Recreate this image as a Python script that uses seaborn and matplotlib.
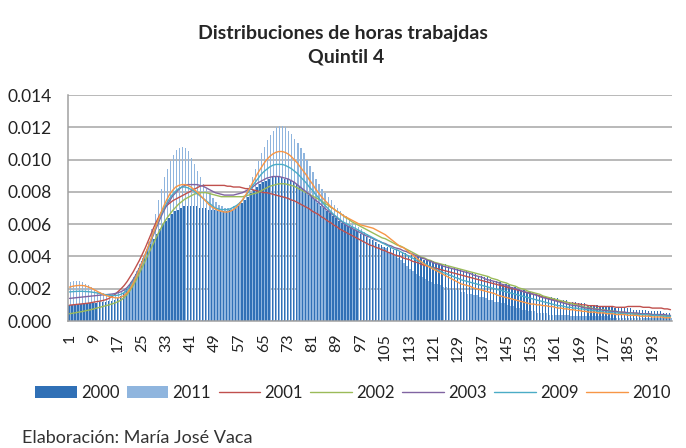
import numpy as np
import pandas as pd
import matplotlib
matplotlib.use("Agg")
import matplotlib.pyplot as plt
import seaborn as sns

# horas 1..199, valores en "por mil" (x 1/1000)
horas = list(range(1, 200))

y2000 = [1.00,1.02,1.04,1.06,1.08,1.10,1.11,1.12,1.13,1.14,
         1.15,1.17,1.19,1.22,1.26,1.32,1.42,1.55,1.75,2.00,
         2.20,2.50,2.90,3.30,3.70,4.10,4.50,4.80,5.10,5.40,
         5.70,6.00,6.20,6.40,6.60,6.80,6.90,7.00,7.10,7.10,
         7.10,7.10,7.10,7.00,7.00,7.00,6.90,6.90,6.90,6.80,
         6.80,6.80,6.80,6.90,6.90,7.00,7.10,7.30,7.50,7.70,
         7.90,8.10,8.30,8.50,8.60,8.70,8.80,8.90,8.90,8.90,
         8.90,8.80,8.80,8.70,8.60,8.50,8.30,8.20,8.00,7.80,
         7.70,7.50,7.30,7.10,7.00,6.80,6.70,6.50,6.40,6.20,
         6.10,6.00,5.90,5.80,5.70,5.60,5.40,5.30,5.20,5.10,
         5.00,4.90,4.80,4.70,4.60,4.60,4.50,4.40,4.40,4.30,
         4.30,4.20,4.10,4.10,4.00,4.00,3.90,3.80,3.80,3.70,
         3.70,3.60,3.60,3.50,3.50,3.40,3.30,3.30,3.20,3.20,
         3.10,3.10,3.00,3.00,2.90,2.80,2.80,2.70,2.70,2.60,
         2.50,2.50,2.40,2.30,2.30,2.20,2.10,2.10,2.00,1.90,
         1.90,1.80,1.80,1.70,1.70,1.60,1.60,1.50,1.50,1.50,
         1.40,1.40,1.30,1.30,1.30,1.20,1.20,1.20,1.10,1.10,
         1.10,1.00,1.00,1.00,1.00,0.90,0.90,0.90,0.90,0.90,
         0.80,0.80,0.80,0.80,0.80,0.80,0.70,0.70,0.70,0.70,
         0.70,0.60,0.60,0.60,0.60,0.60,0.50,0.50,0.50]

y2011 = [2.40,2.50,2.50,2.45,2.40,2.30,2.20,2.10,1.95,1.85,
         1.80,1.75,1.70,1.70,1.70,1.70,1.72,1.78,1.90,2.10,
         2.40,2.75,3.10,3.50,3.90,4.30,4.90,5.70,6.60,7.50,
         8.20,8.90,9.40,9.90,10.30,10.60,10.70,10.80,10.70,10.50,
         10.10,9.70,9.30,8.90,8.50,8.20,7.90,7.60,7.40,7.20,
         7.10,7.00,7.00,7.00,7.10,7.20,7.40,7.60,8.00,8.40,
         8.90,9.40,9.90,10.40,10.80,11.20,11.50,11.80,12.00,12.10,
         12.10,12.00,11.80,11.60,11.30,11.00,10.70,10.40,10.00,9.60,
         9.20,8.80,8.50,8.20,7.90,7.70,7.50,7.20,7.00,6.80,
         6.60,6.50,6.30,6.10,6.00,5.80,5.70,5.50,5.40,5.20,
         5.10,4.90,4.80,4.60,4.50,4.30,4.20,4.00,3.90,3.80,
         3.60,3.40,3.20,3.10,2.90,2.80,2.70,2.60,2.50,2.40,
         2.30,2.30,2.20,2.10,2.10,2.00,2.00,1.90,1.90,1.80,
         1.80,1.70,1.70,1.60,1.60,1.50,1.50,1.40,1.30,1.30,
         1.20,1.20,1.10,1.10,1.00,0.90,0.90,0.80,0.80,0.70,
         0.70,0.60,0.60,0.60,0.50,0.50,0.50,0.50,0.40,0.40,
         0.40,0.40,0.40,0.40,0.40,0.30,0.30,0.30,0.30,0.30,
         0.30,0.30,0.30,0.30,0.30,0.30,0.30,0.30,0.20,0.20,
         0.20,0.20,0.20,0.20,0.20,0.20,0.20,0.20,0.20,0.20,
         0.20,0.20,0.20,0.20,0.20,0.20,0.20,0.20,0.20]

y2001 = [0.98,1.00,1.02,1.04,1.06,1.08,1.10,1.13,1.17,1.20,
         1.23,1.27,1.32,1.40,1.52,1.66,1.82,2.00,2.20,2.45,
         2.75,3.05,3.40,3.75,4.15,4.55,5.00,5.45,5.90,6.30,
         6.65,6.95,7.15,7.30,7.45,7.55,7.65,7.75,7.85,7.95,
         8.05,8.15,8.25,8.35,8.40,8.40,8.40,8.40,8.40,8.40,
         8.40,8.40,8.35,8.35,8.30,8.30,8.30,8.25,8.20,8.20,
         8.15,8.10,8.05,8.00,7.95,7.95,7.90,7.85,7.80,7.75,
         7.70,7.65,7.60,7.50,7.45,7.35,7.25,7.15,7.05,6.95,
         6.80,6.70,6.60,6.45,6.35,6.20,6.10,5.95,5.85,5.70,
         5.60,5.50,5.40,5.30,5.20,5.10,5.00,4.90,4.80,4.70,
         4.65,4.55,4.50,4.40,4.35,4.25,4.20,4.10,4.05,4.00,
         3.90,3.85,3.80,3.70,3.65,3.60,3.50,3.45,3.40,3.35,
         3.30,3.25,3.20,3.15,3.10,3.05,3.00,2.95,2.90,2.85,
         2.80,2.75,2.70,2.65,2.60,2.55,2.50,2.45,2.40,2.35,
         2.30,2.25,2.20,2.15,2.10,2.05,2.00,1.95,1.90,1.85,
         1.80,1.75,1.70,1.65,1.60,1.55,1.50,1.45,1.40,1.35,
         1.30,1.25,1.20,1.20,1.15,1.10,1.10,1.05,1.05,1.00,
         1.00,0.95,0.95,0.95,0.90,0.90,0.90,0.90,0.90,0.90,
         0.85,0.85,0.85,0.85,0.90,0.90,0.90,0.90,0.90,0.85,
         0.85,0.85,0.80,0.80,0.80,0.80,0.75,0.75,0.70]

y2002 = [0.45,0.48,0.51,0.55,0.58,0.62,0.66,0.70,0.75,0.80,
         0.85,0.90,0.95,1.00,1.06,1.12,1.20,1.30,1.45,1.65,
         1.90,2.20,2.55,2.95,3.35,3.75,4.15,4.55,4.95,5.35,
         5.70,6.05,6.35,6.60,6.85,7.05,7.25,7.40,7.55,7.65,
         7.75,7.85,7.90,7.95,7.95,7.95,7.90,7.85,7.80,7.75,
         7.70,7.70,7.70,7.70,7.70,7.70,7.70,7.70,7.75,7.80,
         7.85,7.90,7.95,8.05,8.15,8.25,8.35,8.40,8.45,8.50,
         8.50,8.50,8.45,8.40,8.35,8.25,8.15,8.05,7.95,7.85,
         7.75,7.65,7.55,7.45,7.30,7.20,7.05,6.95,6.80,6.70,
         6.55,6.40,6.30,6.15,6.05,5.95,5.85,5.75,5.65,5.55,
         5.45,5.35,5.25,5.15,5.10,5.00,4.90,4.80,4.70,4.65,
         4.55,4.45,4.35,4.25,4.15,4.05,3.95,3.90,3.80,3.75,
         3.65,3.60,3.55,3.50,3.45,3.40,3.35,3.30,3.25,3.20,
         3.15,3.10,3.05,3.00,2.95,2.90,2.85,2.80,2.75,2.65,
         2.60,2.55,2.45,2.40,2.35,2.25,2.20,2.15,2.05,2.00,
         1.95,1.85,1.80,1.75,1.70,1.65,1.55,1.50,1.45,1.40,
         1.35,1.30,1.25,1.20,1.15,1.10,1.05,1.00,0.95,0.90,
         0.85,0.85,0.80,0.75,0.75,0.70,0.70,0.65,0.65,0.60,
         0.60,0.55,0.55,0.50,0.50,0.50,0.45,0.45,0.45,0.40,
         0.40,0.40,0.40,0.35,0.35,0.35,0.35,0.30,0.30]

y2003 = [1.40,1.42,1.44,1.46,1.48,1.50,1.52,1.54,1.56,1.58,
         1.60,1.62,1.63,1.65,1.67,1.70,1.75,1.82,1.92,2.08,
         2.30,2.58,2.90,3.28,3.70,4.15,4.60,5.05,5.50,5.95,
         6.40,6.80,7.15,7.45,7.75,7.95,8.15,8.30,8.40,8.45,
         8.45,8.45,8.45,8.40,8.35,8.25,8.15,8.05,7.95,7.90,
         7.85,7.80,7.80,7.80,7.80,7.85,7.90,7.95,8.05,8.15,
         8.25,8.40,8.55,8.65,8.75,8.85,8.90,8.95,8.95,8.95,
         8.90,8.85,8.80,8.70,8.60,8.45,8.30,8.15,8.00,7.85,
         7.65,7.50,7.35,7.20,7.00,6.85,6.70,6.55,6.40,6.25,
         6.10,5.95,5.85,5.75,5.65,5.55,5.45,5.35,5.25,5.20,
         5.10,5.00,4.95,4.85,4.80,4.70,4.65,4.55,4.50,4.45,
         4.35,4.30,4.20,4.15,4.05,4.00,3.90,3.85,3.75,3.70,
         3.60,3.55,3.50,3.40,3.35,3.30,3.25,3.20,3.15,3.10,
         3.05,3.00,2.95,2.85,2.80,2.75,2.70,2.60,2.55,2.50,
         2.45,2.40,2.30,2.25,2.20,2.10,2.05,2.00,1.95,1.85,
         1.80,1.75,1.70,1.65,1.60,1.50,1.45,1.40,1.35,1.30,
         1.25,1.20,1.15,1.10,1.05,1.00,0.95,0.95,0.90,0.85,
         0.80,0.80,0.75,0.75,0.70,0.70,0.65,0.65,0.60,0.60,
         0.60,0.55,0.55,0.55,0.50,0.50,0.50,0.50,0.45,0.45,
         0.45,0.45,0.40,0.40,0.40,0.40,0.40,0.35,0.35]

y2009 = [1.80,1.82,1.83,1.84,1.84,1.83,1.82,1.80,1.77,1.74,
         1.70,1.66,1.63,1.60,1.58,1.58,1.60,1.66,1.76,1.92,
         2.15,2.45,2.80,3.20,3.65,4.10,4.60,5.10,5.60,6.10,
         6.55,6.95,7.30,7.60,7.85,8.05,8.20,8.30,8.30,8.25,
         8.15,8.05,7.90,7.75,7.60,7.45,7.30,7.15,7.00,6.95,
         6.90,6.90,6.90,6.95,7.05,7.15,7.30,7.50,7.75,8.00,
         8.30,8.55,8.80,9.05,9.25,9.40,9.55,9.65,9.70,9.70,
         9.70,9.65,9.55,9.45,9.30,9.15,8.95,8.75,8.55,8.30,
         8.10,7.85,7.65,7.40,7.20,7.00,6.80,6.60,6.45,6.30,
         6.15,6.05,5.95,5.85,5.75,5.65,5.55,5.45,5.35,5.25,
         5.15,5.05,4.95,4.85,4.75,4.65,4.55,4.45,4.40,4.30,
         4.20,4.10,4.00,3.90,3.80,3.70,3.65,3.55,3.45,3.35,
         3.25,3.15,3.10,3.00,2.95,2.85,2.80,2.70,2.65,2.55,
         2.50,2.45,2.40,2.35,2.30,2.25,2.20,2.15,2.10,2.05,
         2.00,1.95,1.90,1.85,1.80,1.75,1.70,1.65,1.60,1.55,
         1.50,1.45,1.40,1.35,1.30,1.25,1.20,1.15,1.10,1.05,
         1.00,0.95,0.95,0.90,0.85,0.85,0.80,0.80,0.75,0.75,
         0.70,0.70,0.65,0.65,0.60,0.60,0.55,0.55,0.55,0.50,
         0.50,0.50,0.45,0.45,0.45,0.45,0.40,0.40,0.40,0.40,
         0.40,0.35,0.35,0.35,0.35,0.30,0.30,0.30,0.30]

y2010 = [2.10,2.15,2.18,2.20,2.20,2.18,2.12,2.05,1.95,1.85,
         1.75,1.66,1.58,1.52,1.47,1.44,1.43,1.48,1.58,1.75,
         2.00,2.35,2.75,3.20,3.65,4.15,4.65,5.15,5.65,6.15,
         6.65,7.10,7.50,7.85,8.10,8.30,8.40,8.45,8.45,8.40,
         8.30,8.15,8.00,7.80,7.60,7.40,7.20,7.05,6.95,6.85,
         6.80,6.75,6.75,6.80,6.90,7.05,7.25,7.50,7.80,8.10,
         8.45,8.80,9.15,9.45,9.75,10.00,10.20,10.35,10.45,10.50,
         10.50,10.45,10.35,10.20,10.00,9.80,9.55,9.30,9.05,8.75,
         8.50,8.20,7.95,7.70,7.50,7.30,7.10,6.95,6.80,6.70,
         6.55,6.45,6.35,6.25,6.15,6.05,5.95,5.90,5.85,5.80,
         5.75,5.65,5.55,5.45,5.35,5.20,5.05,4.90,4.75,4.60,
         4.55,4.40,4.25,4.10,3.95,3.80,3.65,3.50,3.40,3.30,
         3.20,3.10,3.00,2.90,2.80,2.70,2.60,2.50,2.40,2.30,
         2.25,2.20,2.15,2.05,2.00,1.95,1.90,1.85,1.80,1.75,
         1.70,1.60,1.55,1.50,1.45,1.40,1.35,1.30,1.25,1.20,
         1.15,1.10,1.05,1.05,1.00,1.00,0.95,0.95,0.90,0.90,
         0.85,0.80,0.80,0.75,0.75,0.70,0.70,0.65,0.65,0.60,
         0.60,0.55,0.55,0.55,0.50,0.50,0.50,0.45,0.45,0.45,
         0.40,0.40,0.40,0.40,0.35,0.35,0.35,0.35,0.30,0.30,
         0.30,0.30,0.25,0.25,0.25,0.25,0.20,0.20,0.20]

lineas = [('2001', y2001, '#C0504D'),
          ('2002', y2002, '#9BBB59'),
          ('2003', y2003, '#8064A2'),
          ('2009', y2009, '#4BACC6'),
          ('2010', y2010, '#F79646')]

sns.set_style("white")
plt.rcParams['font.family'] = ['Lato', 'DejaVu Sans']

fig = plt.figure(figsize=(6.86, 4.48), dpi=100)
ax = fig.add_axes([68/686, 1-321/448, 604/686, 226/448])

# barras 2000 / 2011
barras = pd.DataFrame({'hora': horas*2,
                       'valor': np.array(y2000 + y2011)/1000,
                       'serie': ['2000']*len(horas) + ['2011']*len(horas)})
sns.barplot(data=barras, x='hora', y='valor', hue='serie',
            palette={'2000': '#3070B6', '2011': '#8FB5DE'},
            width=0.9, errorbar=None, saturation=1, linewidth=0, ax=ax)

# lineas
pos = np.arange(len(horas))
for nombre, vals, col in lineas:
    sns.lineplot(x=pos, y=np.array(vals)/1000, color=col, lw=1.0, label=nombre, ax=ax)

ax.set_xlim(-0.5, len(horas)-0.5)
ax.set_ylim(0, 0.014)
ax.set_yticks(np.arange(0, 0.0141, 0.002))
ax.set_yticklabels(['%.3f' % v for v in np.arange(0, 0.0141, 0.002)], fontsize=12.5, color='#222222')
ax.set_xticks(pos)
ax.set_xticklabels([str(h) if (h-1) % 8 == 0 else '' for h in horas], rotation=90, fontsize=11.5, color='#222222')
ax.tick_params(axis='x', length=4, width=0.6, color='#A0A0A0', pad=5)
ax.tick_params(axis='y', length=5, width=1, color='#A0A0A0', pad=7)
ax.set_xlabel('')
ax.set_ylabel('')
ax.grid(axis='y', color='#A6A6A6', lw=1.1)
ax.set_axisbelow(True)
for s in ['top', 'right']:
    ax.spines[s].set_visible(False)
for s in ['left', 'bottom']:
    ax.spines[s].set_color('#A0A0A0')
    ax.spines[s].set_linewidth(1.1)

handles, labels = ax.get_legend_handles_labels()
ax.get_legend().remove()
orden = ['2000', '2011', '2001', '2002', '2003', '2009', '2010']
h = [handles[labels.index(l)] for l in orden]
fig.legend(h, orden, ncol=7, loc='center', bbox_to_anchor=(0.514, 1-393/448),
           frameon=False, fontsize=12, handlelength=2.5, handleheight=0.75,
           columnspacing=0.45, handletextpad=0.25, labelcolor='#222222')

fig.text(0.5, 1-33/448, 'Distribuciones de horas trabajdas', ha='center', va='center',
         fontsize=14, fontweight='bold', color='#262626')
fig.text(0.505, 1-57/448, 'Quintil 4', ha='center', va='center',
         fontsize=14, fontweight='bold', color='#262626')
fig.text(22/686, 1-438/448, 'Elaboración: María José Vaca', ha='left', va='center',
         fontsize=13, color='#333333')

fig.savefig('out.png', dpi=100)
